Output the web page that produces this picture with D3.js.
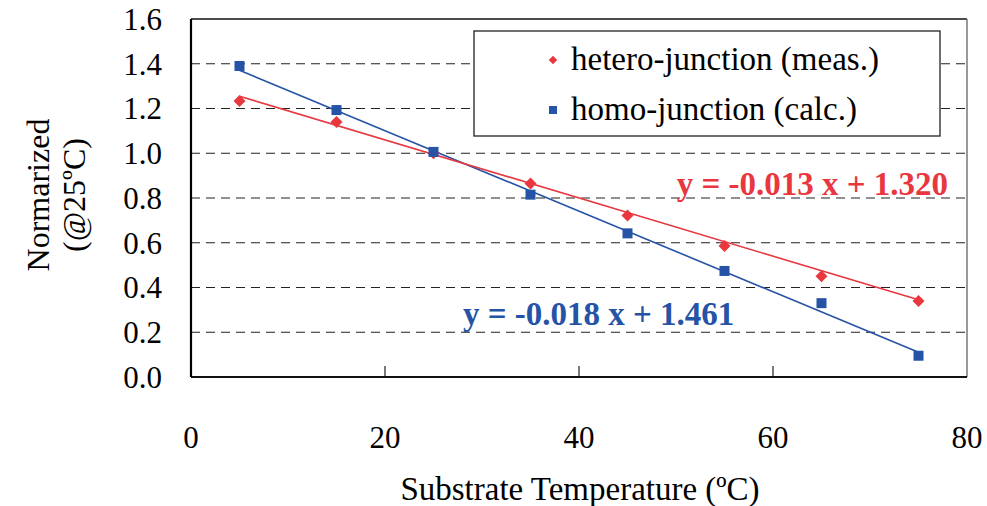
<!DOCTYPE html>
<html><head><meta charset="utf-8">
<script src="https://cdn.jsdelivr.net/npm/d3@7"></script>
<style>body{margin:0;background:#fff}svg{display:block}</style>
</head><body>
<svg id="c" width="987" height="506" font-family="'Liberation Serif', 'Times New Roman', 'DejaVu Serif', serif"></svg>
<script>
const temps = [5, 15, 25, 35, 45, 55, 65, 75];
const heteroVals = [1.234, 1.14, 1.0, 0.865, 0.722, 0.585, 0.45, 0.34];
const homoVals = [1.39, 1.193, 1.006, 0.815, 0.642, 0.474, 0.33, 0.095];
const heteroFit = {slope: -0.013, intercept: 1.320, label: "y = -0.013 x + 1.320"};
const homoFit = {slope: -0.018, intercept: 1.461, label: "y = -0.018 x + 1.461"};
const xTicks = [0, 20, 40, 60, 80];
const yTicks = [0.0, 0.2, 0.4, 0.6, 0.8, 1.0, 1.2, 1.4, 1.6];
const legendLabels = ["hetero-junction (meas.)", "homo-junction (calc.)"];
const RED = "#e8373f", BLUE = "#2553a6";

const svg = d3.select("#c");
const L = 191, R = 967, T = 19, B = 377;
const x = d3.scaleLinear().domain([0, 80]).range([L, R]);
const y = d3.scaleLinear().domain([0, 1.6]).range([B, T]);

// gridlines
svg.append("g").selectAll("line").data(yTicks.filter(d => d > 0 && d < 1.6)).join("line")
  .attr("x1", L).attr("x2", R).attr("y1", d => y(d)).attr("y2", d => y(d))
  .attr("stroke", "#222").attr("stroke-width", 1.2).attr("stroke-dasharray", "9,6");

// x ticks inward
svg.append("g").selectAll("line").data(xTicks.filter(d => d > 0 && d < 80)).join("line")
  .attr("x1", d => x(d)).attr("x2", d => x(d)).attr("y1", B).attr("y2", B - 11)
  .attr("stroke", "#222").attr("stroke-width", 1.2);

// frame
svg.append("line").attr("x1", L).attr("x2", R).attr("y1", T).attr("y2", T).attr("stroke", "#111").attr("stroke-width", 1.5);
svg.append("line").attr("x1", R).attr("x2", R).attr("y1", T).attr("y2", B).attr("stroke", "#777").attr("stroke-width", 1.5);
svg.append("line").attr("x1", L).attr("x2", R).attr("y1", B).attr("y2", B).attr("stroke", "#111").attr("stroke-width", 2);
svg.append("line").attr("x1", L).attr("x2", L).attr("y1", T).attr("y2", B).attr("stroke", "#000").attr("stroke-width", 2.2);

// tick labels
svg.append("g").selectAll("text").data(yTicks).join("text")
  .attr("x", 162).attr("y", d => y(d)).attr("dy", "0.35em").attr("text-anchor", "end")
  .attr("font-size", 31).attr("fill", "#000").text(d => d.toFixed(1));
svg.append("g").selectAll("text").data(xTicks).join("text")
  .attr("x", d => x(d)).attr("y", 448).attr("text-anchor", "middle")
  .attr("font-size", 31).attr("fill", "#000").text(d => d);

// axis titles
svg.append("text").attr("x", 580).attr("y", 500).attr("text-anchor", "middle").attr("font-size", 33).text("Substrate Temperature (ºC)");
svg.append("text").attr("transform", "translate(49,195) rotate(-90)").attr("text-anchor", "middle").attr("font-size", 32).text("Normarized");
svg.append("text").attr("transform", "translate(85,195) rotate(-90)").attr("text-anchor", "middle").attr("font-size", 32).text("(@25ºC)");

// trend lines
function fitLine(fit, color) {
  const x0 = temps[0], x1 = temps[temps.length - 1];
  svg.append("line").attr("x1", x(x0)).attr("y1", y(fit.slope * x0 + fit.intercept))
    .attr("x2", x(x1)).attr("y2", y(fit.slope * x1 + fit.intercept))
    .attr("stroke", color).attr("stroke-width", 1.6);
}
fitLine(homoFit, BLUE);
fitLine(heteroFit, RED);

// markers
svg.append("g").selectAll("path").data(temps.map((t, i) => [t, heteroVals[i]])).join("path")
  .attr("d", d3.symbol().type(d3.symbolSquare).size(72))
  .attr("transform", d => `translate(${x(d[0])},${y(d[1])}) rotate(45)`)
  .attr("fill", RED);
svg.append("g").selectAll("rect").data(temps.map((t, i) => [t, homoVals[i]])).join("rect")
  .attr("x", d => x(d[0]) - 5).attr("y", d => y(d[1]) - 5).attr("width", 10).attr("height", 10)
  .attr("fill", BLUE);

// equations
svg.append("text").attr("x", 948).attr("y", 195).attr("text-anchor", "end").attr("font-size", 33)
  .attr("font-weight", "bold").attr("fill", RED).text(heteroFit.label);
svg.append("text").attr("x", 463).attr("y", 325).attr("text-anchor", "start").attr("font-size", 33)
  .attr("font-weight", "bold").attr("fill", BLUE).text(homoFit.label);

// legend
const lg = svg.append("g");
lg.append("rect").attr("x", 474).attr("y", 31).attr("width", 466).attr("height", 105)
  .attr("fill", "#fff").attr("stroke", "#222").attr("stroke-width", 1.3);
lg.append("path").attr("d", d3.symbol().type(d3.symbolSquare).size(36)).attr("transform", "translate(553,60) rotate(45)").attr("fill", RED);
lg.append("rect").attr("x", 549).attr("y", 106).attr("width", 8).attr("height", 8).attr("fill", BLUE);
lg.selectAll("text").data(legendLabels).join("text")
  .attr("x", 571).attr("y", (d, i) => 70 + i * 50)
  .attr("font-size", 33).attr("fill", "#000").text(d => d);
</script>
</body></html>
